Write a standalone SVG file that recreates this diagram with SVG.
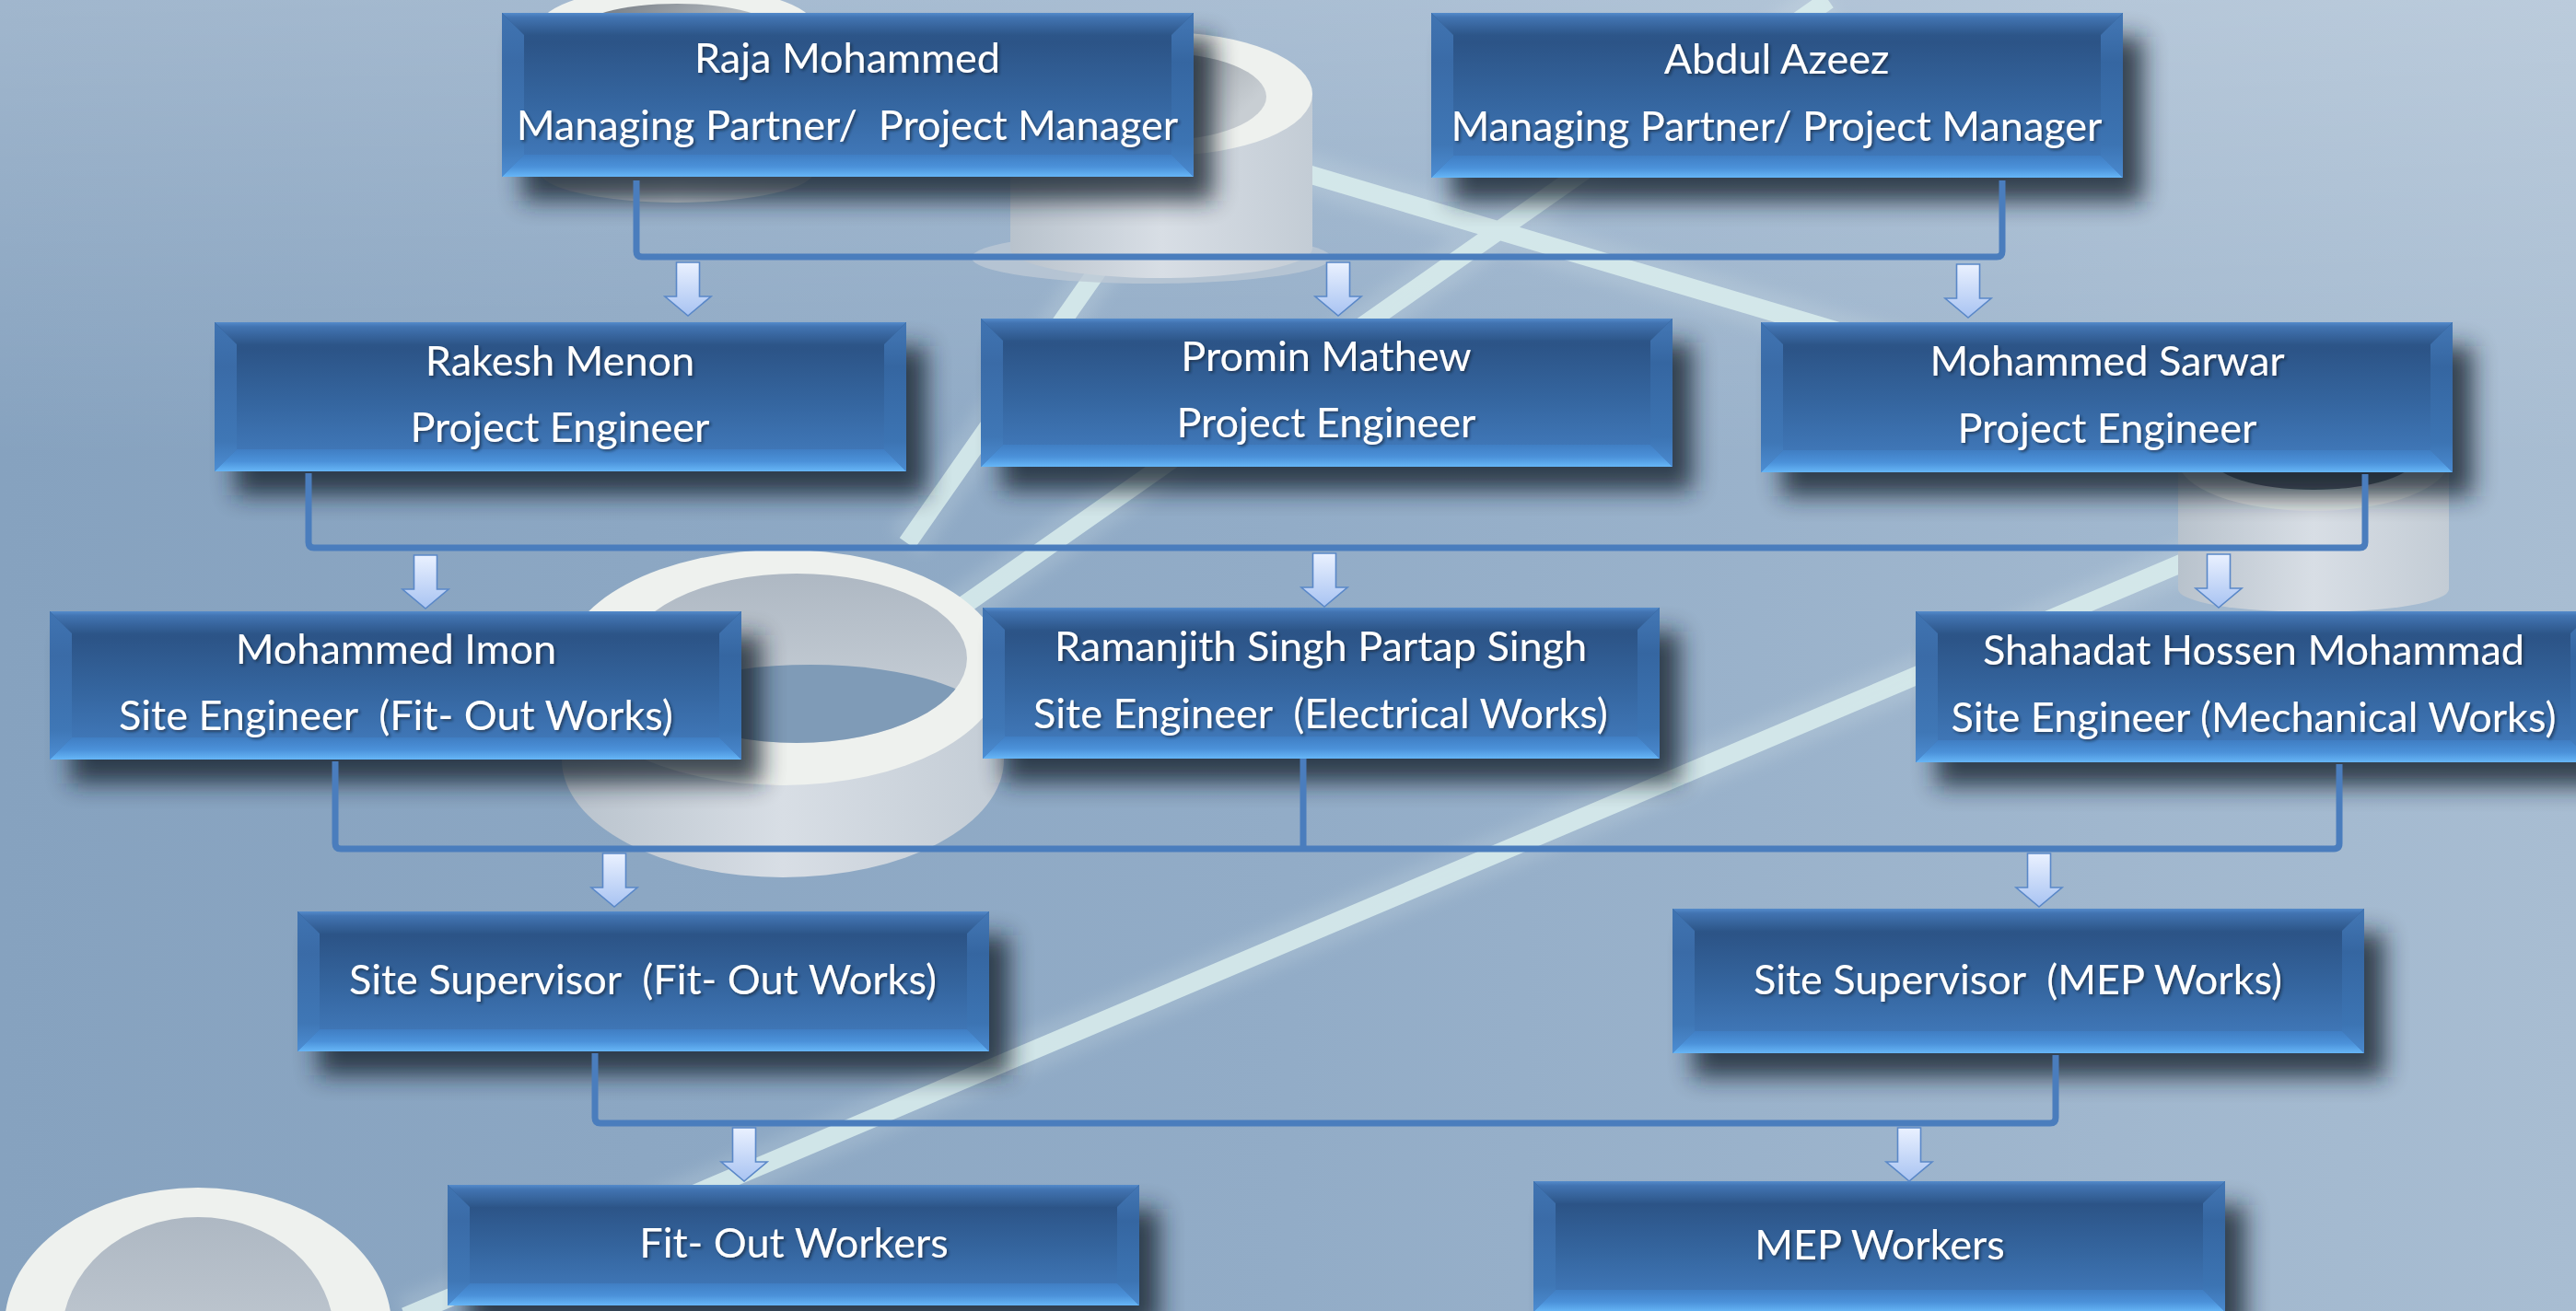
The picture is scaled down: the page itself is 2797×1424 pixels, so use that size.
<svg xmlns="http://www.w3.org/2000/svg" width="2797" height="1424" viewBox="0 0 2797 1424">
<style>
.t{font-family:Lato,"Open Sans","Liberation Sans",sans-serif;font-size:45px;fill:#ffffff;text-anchor:middle;filter:url(#ts)}
.sh{fill:#18222d;opacity:0.8;filter:url(#blur)}
.face{fill:url(#face)}
.bt{fill:url(#bt)}
.bb{fill:url(#bb)}
.bl{fill:url(#bl)}
.br{fill:url(#br)}
.conn{fill:none;stroke:#4a7dbd;stroke-width:7;stroke-linejoin:round}
.arr{fill:url(#arrG);stroke:#5a88c8;stroke-width:1.6}
.rod{stroke:#dcefee;stroke-width:20;opacity:0.82;fill:none}
.glow{stroke:#e8f4f4;stroke-width:44;opacity:0.16;fill:none;filter:url(#soft)}
.rim{fill:#eef1ee}
.side{fill:url(#cylSide)}
</style>
<defs>
<linearGradient id="bg" x1="0" y1="0" x2="1" y2="0">
<stop offset="0" stop-color="#86a2bf"/><stop offset="0.5" stop-color="#92acc7"/><stop offset="1" stop-color="#a8bdd2"/>
</linearGradient>
<linearGradient id="bgTop" x1="0" y1="0" x2="0" y2="1">
<stop offset="0" stop-color="#ffffff" stop-opacity="0.22"/><stop offset="0.35" stop-color="#ffffff" stop-opacity="0"/>
</linearGradient>
<linearGradient id="face" x1="0" y1="0" x2="0" y2="1">
<stop offset="0" stop-color="#2e5a8f"/><stop offset="0.18" stop-color="#2c5487"/><stop offset="0.55" stop-color="#3566a0"/><stop offset="0.85" stop-color="#3f76b6"/><stop offset="1" stop-color="#4580c2"/>
</linearGradient>
<linearGradient id="bt" x1="0" y1="0" x2="0" y2="1">
<stop offset="0" stop-color="#548bcb"/><stop offset="0.2" stop-color="#4274b2"/><stop offset="1" stop-color="#2d5689"/>
</linearGradient>
<linearGradient id="bb" x1="0" y1="0" x2="0" y2="1">
<stop offset="0" stop-color="#407ec3"/><stop offset="0.55" stop-color="#4b91d9"/><stop offset="1" stop-color="#66b6f7"/>
</linearGradient>
<linearGradient id="bl" x1="0" y1="0" x2="0" y2="1">
<stop offset="0" stop-color="#4074b2"/><stop offset="0.3" stop-color="#3a6ba7"/><stop offset="0.8" stop-color="#3f77b6"/><stop offset="1" stop-color="#4d8ed4"/>
</linearGradient>
<linearGradient id="br" x1="0" y1="0" x2="0" y2="1">
<stop offset="0" stop-color="#4478b6"/><stop offset="0.3" stop-color="#3566a1"/><stop offset="0.8" stop-color="#3c74b3"/><stop offset="1" stop-color="#4a8ad0"/>
</linearGradient>
<linearGradient id="arrG" x1="0" y1="0" x2="0" y2="1">
<stop offset="0" stop-color="#eaf1ff"/><stop offset="1" stop-color="#a8c3f2"/>
</linearGradient>
<linearGradient id="cylSide" x1="0" y1="0" x2="1" y2="0">
<stop offset="0" stop-color="#b8c2cc"/><stop offset="0.5" stop-color="#d8dee5"/><stop offset="1" stop-color="#c3ccd5"/>
</linearGradient>
<linearGradient id="inner" x1="0" y1="0" x2="1" y2="0.4">
<stop offset="0" stop-color="#6c737b"/><stop offset="1" stop-color="#c8ced3"/>
</linearGradient>
<linearGradient id="innerV" x1="0" y1="0" x2="0" y2="1">
<stop offset="0" stop-color="#aeb8c3"/><stop offset="1" stop-color="#cdd4db"/>
</linearGradient>
<clipPath id="holeClip"><ellipse cx="865" cy="715" rx="185" ry="92"/></clipPath>
<filter id="blur" x="-10%" y="-30%" width="125%" height="170%"><feGaussianBlur stdDeviation="13"/></filter>
<filter id="soft" x="-10%" y="-10%" width="120%" height="120%"><feGaussianBlur stdDeviation="8"/></filter>
<filter id="ts" x="-5%" y="-30%" width="110%" height="160%"><feDropShadow dx="2" dy="2" stdDeviation="1.5" flood-color="#0c1a2c" flood-opacity="0.6"/></filter>
<path id="arr" d="M-12.5,0 H12.5 V37 H25 L0,58 L-25,37 H-12.5 Z"/>
</defs>

<g id="background">
<rect x="0" y="0" width="2797" height="1424" fill="url(#bg)"/>
<rect x="0" y="0" width="2797" height="1424" fill="url(#bgTop)"/>
<path class="glow" d="M1390,180 L2400,480 M985,590 L1240,225 M1000,690 L1985,0 M440,1430 L2420,590"/>
<path class="rod" d="M1390,180 L2400,480 M985,590 L1240,225 M1000,690 L1985,0 M440,1430 L2420,590"/>
<path class="side" d="M585,30 V185 A150,35 0 0 0 885,185 V30 Z"/>
<ellipse class="rim" cx="735" cy="30" rx="150" ry="45"/>
<ellipse cx="735" cy="34" rx="108" ry="30" fill="url(#inner)"/>
<ellipse cx="1250" cy="280" rx="195" ry="28" fill="#bcc8d4" opacity="0.8"/>
<path class="side" d="M1097,102 V270 A164,32 0 0 0 1425,270 V102 Z"/>
<ellipse class="rim" cx="1261" cy="102" rx="164" ry="67"/>
<ellipse cx="1255" cy="105" rx="120" ry="48" fill="url(#inner)"/>
<path class="side" d="M2365,500 V640 A147,25 0 0 0 2659,640 V500 Z"/>
<ellipse cx="2512" cy="500" rx="147" ry="55" fill="#dfe3e2"/>
<ellipse cx="2512" cy="496" rx="112" ry="36" fill="#59626c"/>
<path class="side" d="M610,725 V825 A240,128 0 0 0 1090,825 V725 Z"/>
<ellipse class="rim" cx="850" cy="725" rx="240" ry="128"/>
<ellipse cx="865" cy="715" rx="185" ry="92" fill="url(#innerV)"/>
<ellipse cx="880" cy="790" rx="200" ry="68" fill="#7f9bb7" clip-path="url(#holeClip)"/>
<ellipse class="rim" cx="215" cy="1440" rx="210" ry="150"/>
<ellipse cx="215" cy="1452" rx="148" ry="130" fill="url(#innerV)"/>
</g>

<g id="n-raja">
<rect class="sh" x="567" y="40" width="751" height="178"/>
<rect class="face" x="545" y="14" width="751" height="178"/>
<polygon class="bt" points="545,14 1296,14 1272,38 569,38"/>
<polygon class="bb" points="545,192 1296,192 1272,168 569,168"/>
<polygon class="bl" points="545,14 569,38 569,168 545,192"/>
<polygon class="br" points="1296,14 1272,38 1272,168 1296,192"/>
<text class="t" x="920" y="79" xml:space="preserve">Raja Mohammed</text>
<text class="t" x="920" y="152" xml:space="preserve">Managing Partner/  Project Manager</text>
</g>

<g id="n-abdul">
<rect class="sh" x="1576" y="40" width="751" height="179"/>
<rect class="face" x="1554" y="14" width="751" height="179"/>
<polygon class="bt" points="1554,14 2305,14 2281,38 1578,38"/>
<polygon class="bb" points="1554,193 2305,193 2281,169 1578,169"/>
<polygon class="bl" points="1554,14 1578,38 1578,169 1554,193"/>
<polygon class="br" points="2305,14 2281,38 2281,169 2305,193"/>
<text class="t" x="1929" y="80" xml:space="preserve">Abdul Azeez</text>
<text class="t" x="1929" y="153" xml:space="preserve">Managing Partner/ Project Manager</text>
</g>

<g id="n-rakesh">
<rect class="sh" x="255" y="376" width="751" height="162"/>
<rect class="face" x="233" y="350" width="751" height="162"/>
<polygon class="bt" points="233,350 984,350 960,374 257,374"/>
<polygon class="bb" points="233,512 984,512 960,488 257,488"/>
<polygon class="bl" points="233,350 257,374 257,488 233,512"/>
<polygon class="br" points="984,350 960,374 960,488 984,512"/>
<text class="t" x="608" y="408" xml:space="preserve">Rakesh Menon</text>
<text class="t" x="608" y="480" xml:space="preserve">Project Engineer</text>
</g>

<g id="n-promin">
<rect class="sh" x="1087" y="372" width="751" height="161"/>
<rect class="face" x="1065" y="346" width="751" height="161"/>
<polygon class="bt" points="1065,346 1816,346 1792,370 1089,370"/>
<polygon class="bb" points="1065,507 1816,507 1792,483 1089,483"/>
<polygon class="bl" points="1065,346 1089,370 1089,483 1065,507"/>
<polygon class="br" points="1816,346 1792,370 1792,483 1816,507"/>
<text class="t" x="1440" y="403" xml:space="preserve">Promin Mathew</text>
<text class="t" x="1440" y="475" xml:space="preserve">Project Engineer</text>
</g>

<g id="n-sarwar">
<rect class="sh" x="1934" y="376" width="751" height="163"/>
<rect class="face" x="1912" y="350" width="751" height="163"/>
<polygon class="bt" points="1912,350 2663,350 2639,374 1936,374"/>
<polygon class="bb" points="1912,513 2663,513 2639,489 1936,489"/>
<polygon class="bl" points="1912,350 1936,374 1936,489 1912,513"/>
<polygon class="br" points="2663,350 2639,374 2639,489 2663,513"/>
<text class="t" x="2288" y="408" xml:space="preserve">Mohammed Sarwar</text>
<text class="t" x="2288" y="481" xml:space="preserve">Project Engineer</text>
</g>

<g id="n-imon">
<rect class="sh" x="76" y="690" width="751" height="161"/>
<rect class="face" x="54" y="664" width="751" height="161"/>
<polygon class="bt" points="54,664 805,664 781,688 78,688"/>
<polygon class="bb" points="54,825 805,825 781,801 78,801"/>
<polygon class="bl" points="54,664 78,688 78,801 54,825"/>
<polygon class="br" points="805,664 781,688 781,801 805,825"/>
<text class="t" x="430" y="721" xml:space="preserve">Mohammed Imon</text>
<text class="t" x="430" y="793" xml:space="preserve">Site Engineer  (Fit- Out Works)</text>
</g>

<g id="n-ramanjith">
<rect class="sh" x="1089" y="686" width="735" height="164"/>
<rect class="face" x="1067" y="660" width="735" height="164"/>
<polygon class="bt" points="1067,660 1802,660 1778,684 1091,684"/>
<polygon class="bb" points="1067,824 1802,824 1778,800 1091,800"/>
<polygon class="bl" points="1067,660 1091,684 1091,800 1067,824"/>
<polygon class="br" points="1802,660 1778,684 1778,800 1802,824"/>
<text class="t" x="1434" y="718" xml:space="preserve">Ramanjith Singh Partap Singh</text>
<text class="t" x="1434" y="791" xml:space="preserve">Site Engineer  (Electrical Works)</text>
</g>

<g id="n-shahadat">
<rect class="sh" x="2102" y="690" width="735" height="164"/>
<rect class="face" x="2080" y="664" width="735" height="164"/>
<polygon class="bt" points="2080,664 2815,664 2791,688 2104,688"/>
<polygon class="bb" points="2080,828 2815,828 2791,804 2104,804"/>
<polygon class="bl" points="2080,664 2104,688 2104,804 2080,828"/>
<polygon class="br" points="2815,664 2791,688 2791,804 2815,828"/>
<text class="t" x="2447" y="722" xml:space="preserve">Shahadat Hossen Mohammad</text>
<text class="t" x="2447" y="795" xml:space="preserve">Site Engineer (Mechanical Works)</text>
</g>

<g id="n-sup-fitout">
<rect class="sh" x="345" y="1016" width="751" height="152"/>
<rect class="face" x="323" y="990" width="751" height="152"/>
<polygon class="bt" points="323,990 1074,990 1050,1014 347,1014"/>
<polygon class="bb" points="323,1142 1074,1142 1050,1118 347,1118"/>
<polygon class="bl" points="323,990 347,1014 347,1118 323,1142"/>
<polygon class="br" points="1074,990 1050,1014 1050,1118 1074,1142"/>
<text class="t" x="698" y="1080" xml:space="preserve">Site Supervisor  (Fit- Out Works)</text>
</g>

<g id="n-sup-mep">
<rect class="sh" x="1838" y="1013" width="751" height="157"/>
<rect class="face" x="1816" y="987" width="751" height="157"/>
<polygon class="bt" points="1816,987 2567,987 2543,1011 1840,1011"/>
<polygon class="bb" points="1816,1144 2567,1144 2543,1120 1840,1120"/>
<polygon class="bl" points="1816,987 1840,1011 1840,1120 1816,1144"/>
<polygon class="br" points="2567,987 2543,1011 2543,1120 2567,1144"/>
<text class="t" x="2191" y="1080" xml:space="preserve">Site Supervisor  (MEP Works)</text>
</g>

<g id="n-workers-fitout">
<rect class="sh" x="508" y="1313" width="751" height="131"/>
<rect class="face" x="486" y="1287" width="751" height="131"/>
<polygon class="bt" points="486,1287 1237,1287 1213,1311 510,1311"/>
<polygon class="bb" points="486,1418 1237,1418 1213,1394 510,1394"/>
<polygon class="bl" points="486,1287 510,1311 510,1394 486,1418"/>
<polygon class="br" points="1237,1287 1213,1311 1213,1394 1237,1418"/>
<text class="t" x="862" y="1366" xml:space="preserve">Fit- Out Workers</text>
</g>

<g id="n-workers-mep">
<rect class="sh" x="1687" y="1309" width="751" height="142"/>
<rect class="face" x="1665" y="1283" width="751" height="142"/>
<polygon class="bt" points="1665,1283 2416,1283 2392,1307 1689,1307"/>
<polygon class="bb" points="1665,1425 2416,1425 2392,1401 1689,1401"/>
<polygon class="bl" points="1665,1283 1689,1307 1689,1401 1665,1425"/>
<polygon class="br" points="2416,1283 2392,1307 2392,1401 2416,1425"/>
<text class="t" x="2041" y="1368" xml:space="preserve">MEP Workers</text>
</g>

<g id="connectors">
<path class="conn" d="M691,196 V273 Q691,279 697,279 H2168 Q2174,279 2174,273 V196"/>
<path class="conn" d="M335,514 V589 Q335,595 341,595 H2562 Q2568,595 2568,589 V515"/>
<path class="conn" d="M364,827 V916 Q364,922 370,922 H2534 Q2540,922 2540,916 V830"/>
<path class="conn" d="M1415,824 V922"/>
<path class="conn" d="M646,1144 V1214 Q646,1220 652,1220 H2226 Q2232,1220 2232,1214 V1146"/>
<use href="#arr" class="arr" x="747" y="285"/>
<use href="#arr" class="arr" x="1453" y="285"/>
<use href="#arr" class="arr" x="2137" y="287"/>
<use href="#arr" class="arr" x="462" y="603"/>
<use href="#arr" class="arr" x="1438" y="601"/>
<use href="#arr" class="arr" x="2409" y="602"/>
<use href="#arr" class="arr" x="667" y="927"/>
<use href="#arr" class="arr" x="2214" y="927"/>
<use href="#arr" class="arr" x="808" y="1225"/>
<use href="#arr" class="arr" x="2073" y="1225"/>
</g>
</svg>
